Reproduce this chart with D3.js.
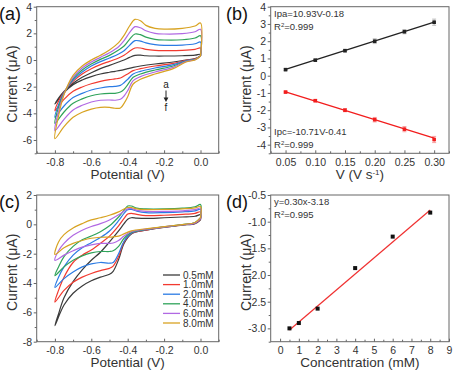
<!DOCTYPE html>
<html>
<head>
<meta charset="utf-8">
<script src="https://cdn.jsdelivr.net/npm/d3@7"></script>
<style>
  body { margin: 0; background: #fff; }
  svg { font-family: "Liberation Sans", Arial, sans-serif; }
</style>
</head>
<body>
<svg id="chart" width="455" height="377"></svg>
<script>
// curve colours, a..f and 0.5..8.0 mM share the same order
const colors = ["#3b3b3b", "#f23a30", "#2b7be4", "#2fa35a", "#b169e3", "#d8a322"];

// (a) CVs at six scan rates, anodic (upper) and cathodic (lower) branches
const aPotUp = [-0.8, -0.78, -0.75, -0.7, -0.65, -0.6, -0.55, -0.5, -0.45, -0.42, -0.39, -0.36, -0.33, -0.3, -0.25, -0.2, -0.1, -0.03, 0.0];
const aUpper = [
  [-3.3, -2.85, -2.35, -1.75, -1.3, -0.95, -0.65, -0.4, -0.15, 0.0, 0.2, 0.35, 0.36, 0.32, 0.3, 0.3, 0.32, 0.36, 0.42],
  [-3.8, -3.1, -2.4, -1.6, -1.05, -0.65, -0.35, -0.1, 0.15, 0.35, 0.65, 0.9, 0.9, 0.8, 0.72, 0.7, 0.72, 0.8, 0.9],
  [-4.3, -3.35, -2.45, -1.5, -0.9, -0.45, -0.12, 0.15, 0.45, 0.7, 1.1, 1.45, 1.42, 1.28, 1.15, 1.1, 1.12, 1.22, 1.35],
  [-4.75, -3.55, -2.5, -1.4, -0.75, -0.3, 0.05, 0.35, 0.75, 1.05, 1.55, 1.95, 1.9, 1.72, 1.55, 1.5, 1.52, 1.65, 1.82],
  [-5.3, -3.85, -2.55, -1.3, -0.6, -0.15, 0.2, 0.55, 1.0, 1.45, 2.05, 2.5, 2.42, 2.2, 2.0, 1.95, 1.98, 2.12, 2.3],
  [-5.9, -4.2, -2.6, -1.15, -0.45, 0.0, 0.35, 0.75, 1.3, 1.85, 2.55, 3.05, 2.95, 2.6, 2.38, 2.32, 2.38, 2.55, 2.78]
];
const aPotDown = [0.0, -0.03, -0.08, -0.15, -0.25, -0.33, -0.37, -0.4, -0.42, -0.44, -0.47, -0.5, -0.55, -0.6, -0.65, -0.7, -0.75, -0.8];
const aLower = [
  [0.3, 0.1, 0.0, -0.15, -0.3, -0.45, -0.55, -0.65, -0.72, -0.78, -0.85, -0.92, -1.05, -1.25, -1.5, -1.85, -2.45, -3.3],
  [0.3, 0.08, -0.03, -0.25, -0.45, -0.65, -0.8, -1.05, -1.2, -1.35, -1.42, -1.47, -1.6, -1.78, -2.02, -2.35, -2.95, -3.8],
  [0.3, 0.06, -0.06, -0.35, -0.6, -0.85, -1.05, -1.45, -1.7, -1.9, -1.98, -2.0, -2.1, -2.25, -2.5, -2.82, -3.45, -4.3],
  [0.3, 0.04, -0.09, -0.45, -0.75, -1.05, -1.3, -1.85, -2.2, -2.4, -2.5, -2.5, -2.55, -2.68, -2.92, -3.25, -3.9, -4.75],
  [0.3, 0.02, -0.12, -0.55, -0.9, -1.25, -1.55, -2.3, -2.7, -2.95, -3.02, -3.0, -3.02, -3.15, -3.4, -3.75, -4.45, -5.3],
  [0.3, 0.0, -0.15, -0.65, -1.05, -1.45, -1.8, -2.75, -3.25, -3.6, -3.62, -3.55, -3.55, -3.68, -3.92, -4.3, -5.0, -5.9]
];

// (b) peak currents vs scan rate
const scanRates = [0.05, 0.10, 0.15, 0.20, 0.25, 0.30];
const ipa = [0.35, 0.9, 1.45, 2.0, 2.55, 3.1];
const ipaErr = [0.05, 0.05, 0.07, 0.14, 0.12, 0.18];
const ipc = [-0.95, -1.45, -2.0, -2.55, -3.1, -3.7];
const ipcErr = [0.05, 0.06, 0.09, 0.13, 0.15, 0.18];

// (c) CVs at six concentrations
const concLabels = ["0.5mM", "1.0mM", "2.0mM", "4.0mM", "6.0mM", "8.0mM"];
const cPotUp = [-0.8, -0.78, -0.75, -0.7, -0.65, -0.6, -0.55, -0.5, -0.45, -0.42, -0.4, -0.38, -0.35, -0.3, -0.2, -0.1, -0.03, 0.0];
const cUpper = [
  [-6.9, -6.1, -5.0, -3.9, -3.1, -2.45, -1.9, -1.2, -0.45, 0.05, 0.35, 0.45, 0.42, 0.4, 0.45, 0.5, 0.55, 0.65],
  [-5.3, -4.5, -3.6, -2.6, -2.1, -1.75, -1.3, -0.8, -0.1, 0.4, 0.7, 0.75, 0.68, 0.6, 0.62, 0.68, 0.75, 0.85],
  [-4.3, -3.6, -2.9, -2.1, -1.6, -1.25, -0.9, -0.45, 0.25, 0.75, 1.0, 1.02, 0.9, 0.8, 0.8, 0.85, 0.92, 1.02],
  [-3.5, -2.9, -2.2, -1.5, -1.05, -0.8, -0.5, -0.1, 0.5, 0.95, 1.25, 1.25, 1.1, 1.05, 1.05, 1.1, 1.2, 1.35],
  [-2.45, -1.8, -1.3, -0.75, -0.4, -0.15, 0.05, 0.3, 0.65, 0.9, 1.05, 1.08, 0.95, 0.88, 0.88, 0.92, 1.0, 1.1],
  [-2.05, -1.2, -0.7, -0.25, 0.05, 0.3, 0.45, 0.62, 0.85, 1.05, 1.15, 1.15, 1.05, 1.0, 1.02, 1.06, 1.12, 1.22]
];
const cPotDown = [0.0, -0.03, -0.1, -0.2, -0.3, -0.38, -0.42, -0.45, -0.48, -0.5, -0.55, -0.6, -0.65, -0.7, -0.75, -0.8];
const cLower = [
  [0.3, 0.05, -0.05, -0.2, -0.4, -0.65, -1.3, -2.4, -3.2, -3.4, -3.6, -3.85, -4.2, -4.7, -5.5, -6.9],
  [0.35, 0.08, -0.04, -0.2, -0.4, -0.62, -1.2, -2.2, -2.85, -3.0, -3.15, -3.35, -3.6, -3.95, -4.5, -5.3],
  [0.4, 0.1, -0.03, -0.18, -0.37, -0.6, -1.15, -2.0, -2.6, -2.65, -2.6, -2.7, -2.9, -3.25, -3.7, -4.3],
  [0.45, 0.12, -0.02, -0.17, -0.35, -0.55, -0.95, -1.5, -1.8, -1.85, -1.85, -1.95, -2.15, -2.45, -2.9, -3.5],
  [0.4, 0.1, -0.03, -0.17, -0.33, -0.5, -0.8, -1.1, -1.27, -1.3, -1.3, -1.4, -1.55, -1.8, -2.1, -2.45],
  [0.45, 0.12, -0.02, -0.15, -0.3, -0.45, -0.65, -0.8, -0.85, -0.87, -0.88, -0.95, -1.1, -1.3, -1.6, -2.05]
];

// (d) calibration
const conc = [0.5, 1, 2, 4, 6, 8];
const peakCurrent = [-3.0, -2.9, -2.63, -1.87, -1.28, -0.83];
const fitSlope = 0.30, fitIntercept = -3.18;

const svg = d3.select("#chart");
const axisColor = "#666", textColor = "#333";
const hy = s => String(s).replace("\u2212", "-");

function panel(o) {
  const x = d3.scaleLinear().domain(o.xDomain).range([o.left, o.right]);
  const y = d3.scaleLinear().domain(o.yDomain).range([o.bottom, o.top]);
  const g = svg.append("g");

  const xa = d3.axisBottom(x).tickValues(o.xTicks).tickSize(-3).tickPadding(5)
    .tickFormat(d => hy(d3.format(o.xFmt)(d)));
  const ya = d3.axisLeft(y).tickValues(o.yTicks).tickSize(3).tickPadding(1.5)
    .tickFormat(d => hy(d3.format(o.yFmt)(d)));
  g.append("g").attr("transform", `translate(0,${o.bottom})`).call(xa);
  g.append("g").attr("transform", `translate(${o.left},0)`).call(ya);
  g.append("g").attr("transform", `translate(0,${o.bottom})`)
    .call(d3.axisBottom(x).tickValues(o.xMinor).tickSize(-2).tickFormat(""));
  g.append("g").attr("transform", `translate(${o.left},0)`)
    .call(d3.axisLeft(y).tickValues(o.yMinor).tickSize(2).tickFormat(""));
  g.selectAll(".domain").remove();
  g.selectAll(".tick line").attr("stroke", axisColor);
  g.selectAll(".tick text").attr("fill", textColor).style("font-size", "10.5px");

  g.append("rect")
    .attr("x", o.left).attr("y", o.top)
    .attr("width", o.right - o.left).attr("height", o.bottom - o.top)
    .attr("fill", "none").attr("stroke", axisColor).attr("stroke-width", 1);

  g.append("text").attr("x", (o.left + o.right) / 2).attr("y", o.bottom + 25.5)
    .attr("text-anchor", "middle").attr("fill", textColor).style("font-size", "13.5px")
    .each(function () { o.xTitle(d3.select(this)); });
  g.append("text")
    .attr("transform", `translate(${o.left - 19.5},${(o.top + o.bottom) / 2 + 4}) rotate(-90)`)
    .attr("text-anchor", "middle").attr("fill", textColor).style("font-size", "14px")
    .text("Current (\u03bcA)");
  g.append("text").attr("x", o.labelX).attr("y", o.top + 13)
    .attr("fill", "#111").style("font-size", "18px").text(o.label);
  return { x, y, g };
}

const cvLine = (x, y) => d3.line().x(d => x(d[0])).y(d => y(d[1])).curve(d3.curveCatmullRom.alpha(0.5));

function drawCV(p, potDown, lower, potUp, upper) {
  const line = cvLine(p.x, p.y);
  lower.forEach((lo, k) => {
    const pts = potDown.map((e, i) => [e, lo[i]])
      .concat(potUp.slice(1).map((e, i) => [e, upper[k][i + 1]]));
    pts.push([potDown[0], lo[0]]);
    p.g.append("path").attr("d", line(pts))
      .attr("fill", "none").attr("stroke", colors[k]).attr("stroke-width", 1.2);
  });
}

// ---------- (a)
const pa = panel({
  left: 36.7, right: 218.7, top: 6.7, bottom: 153.3,
  xDomain: [-0.9, 0.1], yDomain: [-7, 4],
  xTicks: [-0.8, -0.6, -0.4, -0.2, 0.0], xMinor: [-0.9, -0.7, -0.5, -0.3, -0.1, 0.1], xFmt: ".1f",
  yTicks: [-6, -4, -2, 0, 2, 4], yMinor: [-7, -5, -3, -1, 1, 3], yFmt: "d",
  xTitle: t => t.text("Potential (V)"), label: "(a)", labelX: -1
});
drawCV(pa, aPotDown, aLower, aPotUp, aUpper);
pa.g.append("text").attr("x", 166).attr("y", 88).attr("text-anchor", "middle")
  .attr("fill", "#222").style("font-size", "10px").text("a");
pa.g.append("line").attr("x1", 166).attr("x2", 166).attr("y1", 90.5).attr("y2", 98)
  .attr("stroke", "#222").attr("stroke-width", 1);
pa.g.append("path").attr("d", "M163.6,97.5 L168.4,97.5 L166,102 Z").attr("fill", "#222");
pa.g.append("text").attr("x", 166).attr("y", 111).attr("text-anchor", "middle")
  .attr("fill", "#222").style("font-size", "10px").text("f");

// ---------- (b)
const pb = panel({
  left: 270.7, right: 449, top: 6.7, bottom: 153.3,
  xDomain: [0.025, 0.325], yDomain: [-4.5, 4],
  xTicks: scanRates, xMinor: [0.025, 0.075, 0.125, 0.175, 0.225, 0.275, 0.325], xFmt: ".2f",
  yTicks: [-4, -3, -2, -1, 0, 1, 2, 3, 4], yMinor: [-4.5, -3.5, -2.5, -1.5, -0.5, 0.5, 1.5, 2.5, 3.5], yFmt: "d",
  xTitle: t => {
    t.append("tspan").text("V (V s");
    t.append("tspan").attr("dy", -4).style("font-size", "8px").text("-1");
    t.append("tspan").attr("dy", 4).text(")");
  },
  label: "(b)", labelX: 226
});
[[ipa, ipaErr, "#222", "#bdbdbd", 10.93, -0.18], [ipc, ipcErr, "#f21d1d", "#f7a0a0", -10.71, -0.41]]
  .forEach(([vals, errs, col, ecol, m, c]) => {
    const x = pb.x, y = pb.y;
    scanRates.forEach((v, i) => {
      const g = pb.g.append("g").attr("stroke", ecol).attr("stroke-width", 1);
      g.append("line").attr("x1", x(v)).attr("x2", x(v)).attr("y1", y(vals[i] - errs[i])).attr("y2", y(vals[i] + errs[i]));
      g.append("line").attr("x1", x(v) - 2).attr("x2", x(v) + 2).attr("y1", y(vals[i] - errs[i])).attr("y2", y(vals[i] - errs[i]));
      g.append("line").attr("x1", x(v) - 2).attr("x2", x(v) + 2).attr("y1", y(vals[i] + errs[i])).attr("y2", y(vals[i] + errs[i]));
    });
    const e0 = scanRates[0], e1 = scanRates[scanRates.length - 1];
    pb.g.append("line").attr("x1", x(e0)).attr("x2", x(e1))
      .attr("y1", y(m * e0 + c)).attr("y2", y(m * e1 + c))
      .attr("stroke", col).attr("stroke-width", 1.3);
    pb.g.selectAll(null).data(scanRates).join("rect")
      .attr("x", d => x(d) - 1.8).attr("y", (d, i) => y(vals[i]) - 1.8)
      .attr("width", 3.6).attr("height", 3.6).attr("fill", col);
  });
function eqText(g, x, y, s) {
  g.append("text").attr("x", x).attr("y", y).attr("fill", textColor).style("font-size", "9.5px").text(s);
}
function r2Text(g, x, y, s) {
  const t = g.append("text").attr("x", x).attr("y", y).attr("fill", textColor).style("font-size", "9.5px");
  t.append("tspan").text("R");
  t.append("tspan").attr("dy", -3.5).style("font-size", "6px").text("2");
  t.append("tspan").attr("dy", 3.5).text("=" + s);
}
eqText(pb.g, 274, 17, "Ipa=10.93V-0.18");
r2Text(pb.g, 274, 30, "0.999");
eqText(pb.g, 274, 135, "Ipc=-10.71V-0.41");
r2Text(pb.g, 274, 148, "0.999");

// ---------- (c)
const pc = panel({
  left: 36.7, right: 218.7, top: 195, bottom: 341.7,
  xDomain: [-0.9, 0.1], yDomain: [-8, 2],
  xTicks: [-0.8, -0.6, -0.4, -0.2, 0.0], xMinor: [-0.9, -0.7, -0.5, -0.3, -0.1, 0.1], xFmt: ".1f",
  yTicks: [-8, -6, -4, -2, 0, 2], yMinor: [-7, -5, -3, -1, 1], yFmt: "d",
  xTitle: t => t.text("Potential (V)"), label: "(c)", labelX: -1
});
drawCV(pc, cPotDown, cLower, cPotUp, cUpper);
const leg = pc.g.append("g").attr("transform", "translate(163,275)");
concLabels.forEach((s, k) => {
  leg.append("line").attr("x1", 0).attr("x2", 17).attr("y1", k * 9.6).attr("y2", k * 9.6)
    .attr("stroke", colors[k]).attr("stroke-width", 1.3);
  leg.append("text").attr("x", 20).attr("y", k * 9.6 + 3.5).attr("fill", textColor)
    .style("font-size", "10px").text(s);
});

// ---------- (d)
const pd = panel({
  left: 270.7, right: 449, top: 195, bottom: 341.7,
  xDomain: [-0.5, 9], yDomain: [-3.25, -0.5],
  xTicks: d3.range(0, 10), xMinor: d3.range(0.5, 9, 1), xFmt: "d",
  yTicks: [-3.0, -2.5, -2.0, -1.5, -1.0, -0.5], yMinor: [-3.25, -2.75, -2.25, -1.75, -1.25, -0.75], yFmt: ".1f",
  xTitle: t => t.text("Concentration (mM)"), label: "(d)", labelX: 226
});
pd.g.append("line")
  .attr("x1", pd.x(conc[0])).attr("x2", pd.x(conc[conc.length - 1]))
  .attr("y1", pd.y(fitSlope * conc[0] + fitIntercept)).attr("y2", pd.y(fitSlope * conc[conc.length - 1] + fitIntercept))
  .attr("stroke", "#f03030").attr("stroke-width", 1.2);
pd.g.selectAll(null).data(conc).join("rect")
  .attr("x", d => pd.x(d) - 2).attr("y", (d, i) => pd.y(peakCurrent[i]) - 2)
  .attr("width", 4).attr("height", 4).attr("fill", "#111");
eqText(pd.g, 274, 205, "y=0.30x-3.18");
r2Text(pd.g, 274, 218, "0.995");
</script>
</body>
</html>
